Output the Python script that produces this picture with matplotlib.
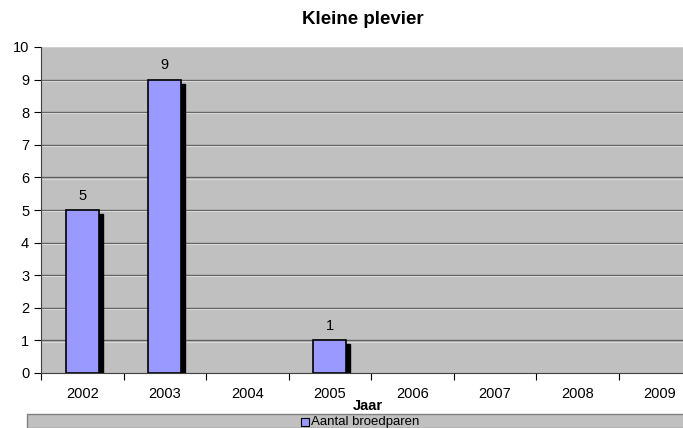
import numpy as np
import matplotlib
matplotlib.use('Agg')
from matplotlib import pyplot as plt
from matplotlib import transforms
from matplotlib.patches import Rectangle

plt.rcParams['font.family'] = ['Liberation Sans', 'DejaVu Sans']

years = ['2002', '2003', '2004', '2005', '2006', '2007', '2008', '2009']
broedparen = [5, 9, 0, 1, 0, 0, 0, 0]

fig = plt.figure(figsize=(6.83, 4.28), dpi=100)
ax = fig.add_axes([41/683, 1 - 373/428, 660/683, 326/428])
ax.set_facecolor('#c0c0c0')

x = np.arange(len(years))
w = 0.4
vals = np.array(broedparen, dtype=float)
vals[vals == 0] = np.nan  # empty years get no bar

# drop shadow behind the bars
shadow = transforms.offset_copy(ax.transData, fig=fig, x=4, y=-4, units='dots')
for xi, v in zip(x, vals):
    if v > 0:
        ax.add_patch(Rectangle((xi - w/2, 0), w, v, color='black', transform=shadow,
                               zorder=2, clip_on=True))

ax.bar(x, vals, width=w, color='#9999ff', edgecolor='black', linewidth=1.2, zorder=3)
for xi, v in zip(x, broedparen):
    if v > 0:
        ax.text(xi, v + 0.22, str(v), ha='center', va='bottom', fontsize=10.5)

ax.set_xlim(-0.5, 7.5)
ax.set_ylim(0, 10)
ax.set_yticks(range(0, 11))
ax.set_xticks(np.arange(-0.5, 8, 1))
ax.set_xticklabels([])
ax.set_xticks(x, minor=True)
ax.set_xticklabels(years, minor=True)
ax.tick_params(axis='x', which='minor', length=0, pad=10, labelsize=10.5)
ax.tick_params(axis='x', which='major', length=5, direction='out')
ax.tick_params(axis='y', length=5, labelsize=10.5)

# gridlines with a light line just below for the 3D look
for yv in range(1, 10):
    ax.axhline(yv, color='#606060', linewidth=1, zorder=1)
    ax.axhline(yv - 0.035, color='#d8d8d8', linewidth=0.8, zorder=1)
ax.axhline(10, color='#d0d0d0', linewidth=1.5, zorder=1)

for s in ['top', 'right']:
    ax.spines[s].set_visible(False)
ax.spines['left'].set_color('#404040')
ax.spines['bottom'].set_color('#404040')

fig.text(363/683, 1 - 20/428, 'Kleine plevier', ha='center', va='center', fontsize=13.5, fontweight='bold')
fig.text(368/683, 1 - 406/428, 'Jaar', ha='center', va='center', fontsize=10.5, fontweight='bold')

# legend strip at the bottom
fig.patches.append(Rectangle((27/683, 0), 1, 1 - 414/428, transform=fig.transFigure,
                             facecolor='#c0c0c0', edgecolor='#808080', linewidth=1))
fig.patches.append(Rectangle((301/683, 1 - 426/428), 8/683, 8/428, transform=fig.transFigure,
                             facecolor='#9999ff', edgecolor='black', linewidth=0.8))
fig.text(311/683, 1 - 422/428, 'Aantal broedparen', ha='left', va='center', fontsize=9.5)

plt.savefig('out.png', dpi=100)
